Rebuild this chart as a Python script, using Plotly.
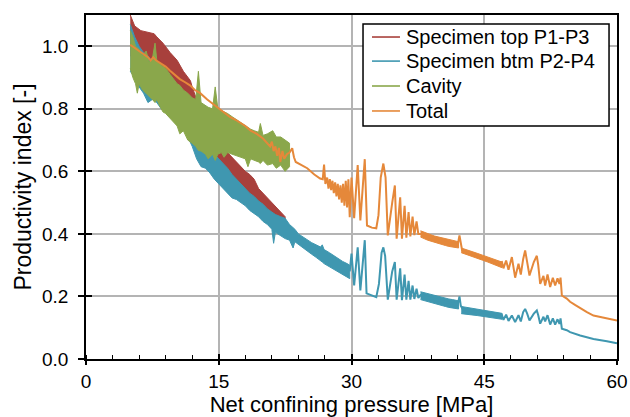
import plotly.graph_objects as go

# ---------------- data ----------------
# Specimen top P1-P3 : noisy band, upper / lower envelope
TOP_X = [5.0, 5.5, 6.2, 7.0, 7.7, 8.0, 8.7, 9.5, 10.3, 11.0, 11.8, 12.0, 12.5, 13.0, 13.5,
         14.0, 14.5, 15.0, 15.5, 16.0, 16.5, 17.0, 17.5, 18.0, 18.5, 19.0, 19.5, 20.0,
         20.5, 21.0, 21.5, 22.0, 22.5]
TOP_UPPER = [1.10, 1.065, 1.05, 1.045, 1.04, 1.03, 1.01, 0.98, 0.955, 0.92, 0.89, 0.87, 0.83,
             0.78, 0.74, 0.72, 0.71, 0.69, 0.68, 0.66, 0.645, 0.63, 0.615, 0.60, 0.59, 0.575,
             0.545, 0.53, 0.515, 0.50, 0.485, 0.47, 0.455]
TOP_LOWER = [0.97, 0.96, 0.945, 0.93, 0.91, 0.90, 0.88, 0.86, 0.835, 0.81, 0.78, 0.77, 0.74,
             0.70, 0.68, 0.66, 0.645, 0.625, 0.61, 0.59, 0.575, 0.56, 0.548, 0.535, 0.523,
             0.51, 0.497, 0.485, 0.472, 0.46, 0.45, 0.44, 0.435]

# Specimen btm P2-P4 : noisy band (5-29.8 MPa)
BTM_X = [5.0, 5.5, 6.0, 6.5, 7.0, 7.5, 8.0, 8.5, 9.0, 9.5, 10.0, 10.5, 11.0, 11.5, 12.0,
         12.5, 13.0, 13.5, 14.0, 14.5, 15.0, 15.5, 16.0, 16.5, 17.0, 17.5, 18.0, 18.5,
         19.0, 19.5, 20.0, 20.5, 21.0, 21.2, 21.4, 22.0, 22.5, 23.0, 23.4, 23.6, 24.0,
         24.5, 25.0, 25.5, 26.0, 26.5, 26.7, 26.9, 27.5, 28.0, 28.5, 29.0, 29.5, 29.8]
BTM_UPPER = [1.07, 1.03, 1.0, 0.98, 0.97, 0.95, 0.92, 0.90, 0.88, 0.86, 0.84, 0.82, 0.80,
             0.78, 0.75, 0.72, 0.70, 0.69, 0.67, 0.655, 0.64, 0.625, 0.61, 0.59, 0.575,
             0.56, 0.545, 0.53, 0.52, 0.505, 0.495, 0.48, 0.47, 0.465, 0.462, 0.455, 0.45,
             0.43, 0.42, 0.415, 0.40, 0.39, 0.38, 0.372, 0.365, 0.358, 0.365, 0.35, 0.34,
             0.33, 0.32, 0.312, 0.305, 0.30]
BTM_LOWER = [0.92, 0.90, 0.87, 0.85, 0.82, 0.83, 0.82, 0.80, 0.79, 0.78, 0.77, 0.76, 0.74,
             0.71, 0.68, 0.64, 0.615, 0.61, 0.595, 0.575, 0.56, 0.545, 0.53, 0.515, 0.51,
             0.50, 0.49, 0.475, 0.465, 0.455, 0.44, 0.43, 0.415, 0.37, 0.405, 0.395, 0.385,
             0.38, 0.355, 0.375, 0.365, 0.355, 0.345, 0.335, 0.325, 0.315, 0.31, 0.305,
             0.295, 0.285, 0.278, 0.27, 0.262, 0.257]
# thin bands further right
BTM_B2_X = [37.8, 38.2, 38.6, 39.0, 39.4, 39.8, 40.2, 40.6, 41.0, 41.4, 41.8, 42.1]
BTM_B2_UPPER = [0.215, 0.212, 0.208, 0.205, 0.203, 0.200, 0.197, 0.194, 0.192, 0.190, 0.188, 0.186]
BTM_B2_LOWER = [0.190, 0.187, 0.184, 0.180, 0.177, 0.174, 0.171, 0.168, 0.165, 0.163, 0.161, 0.160]
BTM_B3_X = [42.4, 43.0, 43.6, 44.2, 44.8, 45.4, 46.0, 46.6, 47.0]
BTM_B3_UPPER = [0.168, 0.165, 0.162, 0.160, 0.157, 0.154, 0.151, 0.148, 0.146]
BTM_B3_LOWER = [0.145, 0.143, 0.141, 0.139, 0.137, 0.135, 0.132, 0.129, 0.127]
# line part (29.8-60 MPa)
BTM_LINE_X = [29.8, 30.0, 30.3, 30.7, 31.0, 31.5, 31.7, 32.2, 32.8, 33.1, 33.4, 33.6, 33.8,
              34.1, 34.6, 34.9, 35.1, 35.5, 35.7, 36.0, 36.2, 36.45, 36.65, 36.9, 37.1,
              37.35, 37.55, 37.8, 38.5, 39.5, 40.5, 41.5, 42.0, 42.2, 42.35, 42.6, 43.5,
              44.5, 45.5, 46.5, 46.8, 47.0, 47.17, 47.47, 47.74, 48.12, 48.49, 48.87, 49.13,
              49.4, 49.62, 49.85, 50.11, 50.6, 50.94, 51.1, 51.32, 51.69, 51.88, 52.15, 52.45,
              52.75, 53.01, 53.28, 53.5, 53.62, 53.77, 54.33, 54.7, 55.84, 57.34, 58.86, 60.0]
BTM_LINE_Y = [0.28, 0.337, 0.235, 0.357, 0.219, 0.38, 0.21, 0.205, 0.198, 0.24, 0.34, 0.357,
              0.33, 0.19, 0.28, 0.31, 0.19, 0.29, 0.188, 0.27, 0.19, 0.25, 0.19, 0.235, 0.192,
              0.225, 0.195, 0.205, 0.198, 0.19, 0.183, 0.176, 0.174, 0.20, 0.17, 0.158, 0.155,
              0.15, 0.145, 0.138, 0.134, 0.14, 0.125, 0.142, 0.122, 0.139, 0.118, 0.14, 0.12,
              0.15, 0.16, 0.145, 0.123, 0.145, 0.155, 0.14, 0.113, 0.135, 0.12, 0.14, 0.11,
              0.13, 0.11, 0.127, 0.112, 0.13, 0.097, 0.092, 0.086, 0.075, 0.064, 0.057, 0.05]

# Cavity : noisy band (5-23 MPa)
CAV_X = [5.0, 5.3, 5.6, 5.8, 6.0, 6.4, 6.8, 7.1, 7.5, 7.8, 8.0, 8.5, 8.7, 9.0, 9.5, 10.0,
         10.3, 10.6, 11.0, 11.5, 12.0, 12.4, 12.7, 13.0, 13.5, 13.8, 14.3, 14.6, 14.9,
         15.3, 15.6, 16.0, 16.5, 17.0, 17.5, 18.0, 18.3, 18.6, 19.0, 19.5, 19.7, 20.0,
         20.5, 21.1, 21.5, 22.0, 22.5, 23.0]
CAV_UPPER = [1.05, 1.03, 1.00, 0.995, 0.99, 0.97, 0.985, 0.95, 0.96, 1.01, 0.955, 0.94,
             0.935, 0.93, 0.91, 0.89, 0.88, 0.875, 0.86, 0.85, 0.835, 0.83, 0.92, 0.82,
             0.81, 0.805, 0.80, 0.87, 0.80, 0.795, 0.79, 0.785, 0.775, 0.765, 0.755, 0.745,
             0.74, 0.735, 0.73, 0.725, 0.753, 0.715, 0.72, 0.73, 0.71, 0.71, 0.70, 0.69]
CAV_LOWER = [0.93, 0.90, 0.88, 0.85, 0.88, 0.86, 0.85, 0.84, 0.83, 0.82, 0.83, 0.80, 0.79,
             0.785, 0.77, 0.755, 0.745, 0.72, 0.73, 0.70, 0.69, 0.68, 0.667, 0.665, 0.655,
             0.64, 0.655, 0.635, 0.655, 0.66, 0.645, 0.66, 0.655, 0.65, 0.645, 0.64, 0.615,
             0.64, 0.635, 0.63, 0.625, 0.635, 0.62, 0.625, 0.61, 0.62, 0.60, 0.615]

# Total : line plus two thin bands
TOT_X = [5.0, 5.5, 6.0, 6.5, 7.0, 7.3, 7.6, 7.9, 8.4, 9.0, 9.5, 10.0, 10.6, 11.2, 11.75,
         12.3, 12.9, 13.7, 14.4, 15.15, 15.8, 16.3, 16.9, 17.4, 18.0, 18.6, 19.3, 20.0,
         20.5, 20.8, 21.0, 21.2, 21.4, 21.6, 21.8, 21.95, 22.2, 22.4, 22.7, 23.0, 23.3,
         23.5, 23.7, 24.2, 25.0, 25.8, 26.45, 26.75, 26.9, 27.05, 27.25, 27.4, 27.55, 27.7,
         27.85, 28.0, 28.15, 28.3, 28.45, 28.6, 28.75, 28.9, 29.05, 29.2, 29.35, 29.5,
         29.65, 29.8, 30.0, 30.3, 30.7, 31.0, 31.5, 31.75, 32.3, 32.8, 33.05, 33.3, 33.6,
         33.85, 34.1, 34.6, 34.9, 35.1, 35.5, 35.7, 36.0, 36.2, 36.45, 36.65, 36.9, 37.1,
         37.35, 37.55, 37.8, 38.5, 39.5, 40.5, 41.5, 42.0, 42.2, 42.35, 42.5, 43.5, 44.5,
         45.5, 46.5, 47.0, 47.17, 47.47, 47.74, 48.12, 48.49, 48.87, 49.13, 49.4, 49.62,
         49.85, 50.11, 50.6, 50.94, 51.1, 51.32, 51.69, 51.88, 52.15, 52.45, 52.75, 53.01,
         53.28, 53.5, 53.62, 53.77, 54.33, 54.7, 55.3, 55.84, 56.6, 57.34, 58.1, 58.86, 60.0]
TOT_Y = [1.005, 0.995, 0.985, 0.975, 0.965, 0.955, 0.965, 0.955, 0.945, 0.935, 0.922, 0.91,
         0.895, 0.885, 0.875, 0.86, 0.85, 0.83, 0.815, 0.80, 0.785, 0.773, 0.765, 0.755,
         0.745, 0.73, 0.72, 0.705, 0.69, 0.68, 0.695, 0.665, 0.68, 0.65, 0.675, 0.63, 0.665,
         0.64, 0.655, 0.66, 0.674, 0.645, 0.63, 0.622, 0.61, 0.59, 0.577, 0.575, 0.622,
         0.56, 0.58, 0.545, 0.575, 0.54, 0.57, 0.53, 0.565, 0.52, 0.56, 0.51, 0.555, 0.50,
         0.56, 0.49, 0.57, 0.485, 0.575, 0.453, 0.58, 0.45, 0.62, 0.443, 0.639, 0.427, 0.42,
         0.418, 0.46, 0.58, 0.625, 0.58, 0.395, 0.50, 0.555, 0.385, 0.517, 0.385, 0.49,
         0.388, 0.47, 0.392, 0.455, 0.396, 0.44, 0.40, 0.40, 0.392, 0.382, 0.374, 0.367,
         0.365, 0.395, 0.375, 0.347, 0.338, 0.327, 0.315, 0.305, 0.31, 0.29, 0.315, 0.285,
         0.326, 0.26, 0.305, 0.27, 0.32, 0.347, 0.31, 0.267, 0.31, 0.33, 0.30, 0.24, 0.266,
         0.235, 0.27, 0.23, 0.26, 0.235, 0.258, 0.24, 0.26, 0.203, 0.193, 0.183, 0.172,
         0.162, 0.15, 0.139, 0.134, 0.13, 0.123]
TOT_B2_X = [37.8, 38.2, 38.6, 39.0, 39.4, 39.8, 40.2, 40.6, 41.0, 41.4, 41.8, 42.1]
TOT_B2_UPPER = [0.410, 0.405, 0.400, 0.397, 0.393, 0.390, 0.387, 0.384, 0.381, 0.379, 0.377, 0.375]
TOT_B2_LOWER = [0.390, 0.385, 0.380, 0.377, 0.373, 0.370, 0.366, 0.363, 0.360, 0.358, 0.356, 0.355]
TOT_B3_X = [42.4, 43.0, 43.6, 44.2, 44.8, 45.4, 46.0, 46.6, 47.0]
TOT_B3_UPPER = [0.355, 0.350, 0.345, 0.338, 0.332, 0.326, 0.320, 0.314, 0.310]
TOT_B3_LOWER = [0.340, 0.335, 0.330, 0.322, 0.316, 0.310, 0.304, 0.297, 0.292]

SERIES_NAMES = ["Specimen top P1-P3", "Specimen btm P2-P4", "Cavity", "Total"]
COLORS = ["#A8403C", "#3F97B0", "#8AA74B", "#E5883A"]

X_TICKS = [0, 15, 30, 45, 60]
Y_TICKS = [0.0, 0.2, 0.4, 0.6, 0.8, 1.0]


def polygon(segments):
    """Build closed outlines (upper forward, lower backward) for fill='toself'."""
    xs, ys = [], []
    for sx, up, lo in segments:
        if xs:
            xs.append(None)
            ys.append(None)
        xs += list(sx) + list(sx[::-1])
        ys += list(up) + list(lo[::-1])
    return xs, ys


fig = go.Figure()


def add_band(segments, color):
    xs, ys = polygon(segments)
    fig.add_trace(go.Scatter(x=xs, y=ys, mode="lines", fill="toself", fillcolor=color,
                             line=dict(color=color, width=1), showlegend=False,
                             hoverinfo="skip"))


add_band([(TOP_X, TOP_UPPER, TOP_LOWER)], COLORS[0])
add_band([(BTM_X, BTM_UPPER, BTM_LOWER), (BTM_B2_X, BTM_B2_UPPER, BTM_B2_LOWER),
          (BTM_B3_X, BTM_B3_UPPER, BTM_B3_LOWER)], COLORS[1])
fig.add_trace(go.Scatter(x=BTM_LINE_X, y=BTM_LINE_Y, mode="lines",
                         line=dict(color=COLORS[1], width=2), showlegend=False))
add_band([(CAV_X, CAV_UPPER, CAV_LOWER)], COLORS[2])
add_band([(TOT_B2_X, TOT_B2_UPPER, TOT_B2_LOWER), (TOT_B3_X, TOT_B3_UPPER, TOT_B3_LOWER)],
         COLORS[3])
fig.add_trace(go.Scatter(x=TOT_X, y=TOT_Y, mode="lines",
                         line=dict(color=COLORS[3], width=2), showlegend=False))

FONT = "Liberation Sans, Arial, sans-serif"
axis_common = dict(showline=True, linecolor="black", linewidth=1.5, mirror=True,
                   showgrid=True, gridcolor="#B4B4B4", gridwidth=1.5, zeroline=False,
                   tickcolor="black", tickwidth=1.5, tickfont=dict(size=19, color="black"),
                   automargin=False)

# ---- legend box (drawn in paper coordinates, like the reference's boxed legend) ----
LEG_X0, LEG_X1, LEG_Y0, LEG_Y1 = 0.5217, 0.985, 0.677, 0.974
LEG_ROWS = [0.936, 0.866, 0.7936, 0.721]
LEG_LINE_X = (0.5386, 0.5913)
LEG_TEXT_X = 0.599

shapes = [dict(type="rect", xref="paper", yref="paper", x0=LEG_X0, x1=LEG_X1, y0=LEG_Y0,
               y1=LEG_Y1, line=dict(color="black", width=1.5), fillcolor="white",
               layer="above")]
annotations = []
for name, col, ry in zip(SERIES_NAMES, COLORS, LEG_ROWS):
    shapes.append(dict(type="line", xref="paper", yref="paper", x0=LEG_LINE_X[0],
                       x1=LEG_LINE_X[1], y0=ry, y1=ry, line=dict(color=col, width=1.6),
                       layer="above"))
    annotations.append(dict(xref="paper", yref="paper", x=LEG_TEXT_X, y=ry, text=name,
                            showarrow=False, xanchor="left", yanchor="middle",
                            font=dict(size=20, color="black", family=FONT)))

fig.update_layout(
    width=630, height=417,
    margin=dict(l=86, r=13, t=15, b=58),
    paper_bgcolor="white", plot_bgcolor="white",
    font=dict(family=FONT, color="black"),
    xaxis=dict(range=[0, 60], tickvals=X_TICKS, ticks="outside", ticklen=4,
               title=dict(text="Net confining pressure [MPa]", font=dict(size=22), standoff=5),
               minor=dict(dtick=3, tick0=0, ticks="inside", ticklen=4, tickcolor="black",
                          tickwidth=1, showgrid=False),
               ticklabelstandoff=0, **axis_common),
    yaxis=dict(range=[0, 1.1], tickvals=Y_TICKS, tickformat=".1f", ticks="outside",
               ticklen=6, title=dict(text="Productivity index [-]", font=dict(size=23),
                                     standoff=4),
               ticklabelstandoff=6, **axis_common),
    xaxis2=dict(range=[0, 60], overlaying="x", anchor="y2", side="bottom",
                tickvals=X_TICKS, ticks="inside", ticklen=5, tickwidth=1.5,
                tickcolor="black", showticklabels=False, showgrid=False,
                showline=False, zeroline=False),
    yaxis2=dict(range=[0, 1.1], overlaying="y", anchor="x2", side="left",
                tickvals=Y_TICKS, ticks="inside", ticklen=6, tickwidth=1.5,
                tickcolor="black", showticklabels=False, showgrid=False,
                showline=False, zeroline=False),
    shapes=shapes,
    annotations=annotations,
    showlegend=False,
)

# empty trace so the overlay axes (crossing major ticks) are rendered
fig.add_trace(go.Scatter(x=[None], y=[None], mode="lines", xaxis="x2", yaxis="y2",
                         showlegend=False, hoverinfo="skip"))

fig.write_html("out.html")
